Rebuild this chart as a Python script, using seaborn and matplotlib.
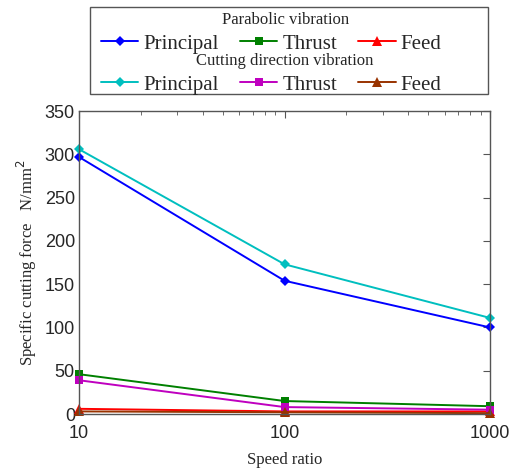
import matplotlib
matplotlib.use("Agg")
import matplotlib.pyplot as plt
import seaborn as sns
import pandas as pd
from matplotlib.patches import Rectangle
from matplotlib.ticker import LogLocator, NullFormatter, FixedLocator

speed_ratio = [10, 100, 1000]
para_principal = [297, 154, 100]
para_thrust = [46, 15, 9]
para_feed = [6, 3, 3]
cut_principal = [306, 173, 111]
cut_thrust = [39, 8, 5]
cut_feed = [3, 2, 1]

group_titles = ["Parabolic vibration", "Cutting direction vibration"]
component_names = ["Principal", "Thrust", "Feed"]
y_ticks = [0, 50, 100, 150, 200, 250, 300, 350]
x_ticks = [10, 100, 1000]

sns.set_style("white")
serif = "Liberation Serif"
tick_family = "Liberation Sans"

fig = plt.figure(figsize=(5.1, 4.71), dpi=100)
ax = fig.add_axes([0.155, 0.121, 0.806, 0.643])

styles = [
    (para_principal, "#0000ff", "D", 5),
    (para_thrust, "#008000", "s", 6),
    (para_feed, "#ff0000", "^", 7),
    (cut_principal, "#00bfbf", "D", 5),
    (cut_thrust, "#bf00bf", "s", 6),
    (cut_feed, "#993300", "^", 7),
]
handles = []
for vals, col, mk, ms in styles:
    df = pd.DataFrame({"x": speed_ratio, "y": vals})
    sns.lineplot(data=df, x="x", y="y", ax=ax, color=col, marker=mk,
                 markersize=ms, markeredgewidth=0, linewidth=1.4, clip_on=False)
    handles.append(ax.lines[-1])

ax.set_xscale("log")
ax.set_xlim(10, 1000)
ax.set_ylim(0, 350)
ax.xaxis.set_major_locator(FixedLocator(x_ticks))
ax.set_xticklabels([str(t) for t in x_ticks])
ax.xaxis.set_minor_locator(LogLocator(base=10, subs=range(2, 10)))
ax.xaxis.set_minor_formatter(NullFormatter())
ax.set_yticks(y_ticks)
ax.tick_params(axis="both", which="both", direction="in", top=True, right=True,
               labelsize=13, color="#555555")
ax.tick_params(axis="y", pad=3)
ax.tick_params(axis="x", pad=8)
ax.tick_params(axis="both", which="major", length=5)
ax.tick_params(axis="both", which="minor", length=3)
for lab in ax.get_xticklabels() + ax.get_yticklabels():
    lab.set_family(tick_family)
for s in ax.spines.values():
    s.set_color("#555555")
    s.set_linewidth(1.0)

ax.set_xlabel("Speed ratio", family=serif, fontsize=12, labelpad=7)
ax.set_ylabel("Specific cutting force   N/mm$^2$", family=serif, fontsize=12, labelpad=4)

# legend box
fig.patches.append(Rectangle((0.176, 0.800), 0.781, 0.185, transform=fig.transFigure,
                             fill=False, edgecolor="#555555", linewidth=1.0))
fig.text(0.559, 0.958, group_titles[0], family=serif, fontsize=12, ha="center", va="center")
fig.text(0.559, 0.870, group_titles[1], family=serif, fontsize=12, ha="center", va="center")
kw = dict(loc="center", ncol=3, frameon=False, prop={"family": serif, "size": 15},
          handlelength=1.8, columnspacing=1.0, borderpad=0.0, handletextpad=0.25)
fig.legend(handles[:3], component_names, bbox_to_anchor=(0.532, 0.907), **kw)
fig.legend(handles[3:], component_names, bbox_to_anchor=(0.532, 0.820), **kw)

fig.savefig("out.png", dpi=100)
